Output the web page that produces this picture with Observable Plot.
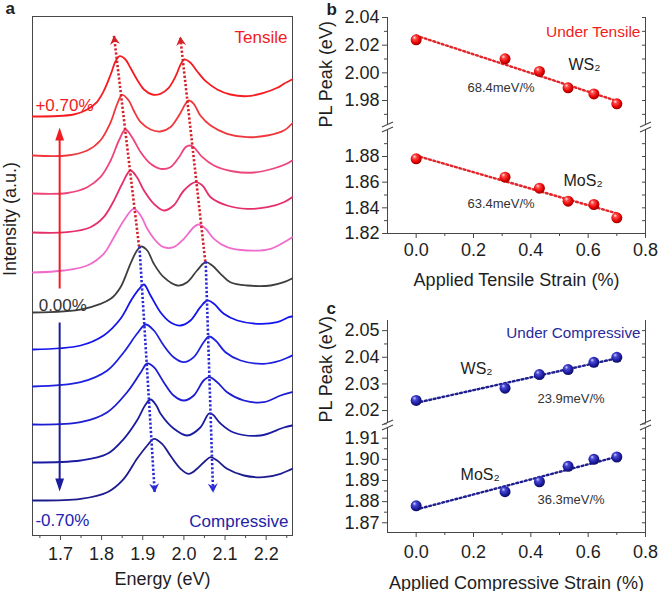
<!DOCTYPE html>
<html><head><meta charset="utf-8">
<script src="https://cdn.jsdelivr.net/npm/d3@7"></script>
<script src="https://cdn.jsdelivr.net/npm/@observablehq/plot@0.6"></script>
<style>
body{margin:0;background:#fff;}
#fig{position:relative;width:658px;height:591px;overflow:hidden;background:#fff;font-family:Arial,"Liberation Sans",sans-serif;}
#fig svg{position:absolute;overflow:visible;background:transparent;}
</style></head><body><div id="fig"></div>
<script>
// ---------------- Panel a: PL spectra (energy in eV, intensity in a.u. relative to each curve's baseline)
const strainLabels = ["+0.70%", "+0.62%", "+0.53%", "+0.43%", "+0.31%", "0.00%", "-0.31%", "-0.43%", "-0.53%", "-0.62%", "-0.70%"];
const curveColors = ["#f51c22", "#f0373c", "#ee4479", "#e52f69", "#f06ccc", "#3e3e3e", "#1414ee", "#1e22e0", "#1c1cd2", "#1b1ba2", "#1c1c8e"];
const curveOffsets = [419, 380, 342, 303, 263, 223, 186, 149, 111, 73, 35];

const eT70 = [1.633,1.732,1.765,1.789,1.805,1.822,1.834,1.844,1.858,1.870,1.886,1.903,1.923,1.943,1.963,1.980,1.992,2.001,2.016,2.032,2.053,2.081,2.113,2.154,2.194,2.227,2.244,2.255,2.263];
const iT70 = [0,2,7,14.7,25.3,42,55.3,60.3,57,48.7,37,27,22,22.7,28.7,40.3,52,57,53.7,45.3,35.3,27,22,20.3,23.7,28.7,33,35.3,37];
const eT62 = [1.633,1.716,1.765,1.797,1.822,1.838,1.850,1.866,1.878,1.895,1.919,1.943,1.967,1.988,2.004,2.012,2.024,2.040,2.065,2.105,2.154,2.203,2.243,2.263];
const iT62 = [0,0,5,15,33.3,51.7,60.7,55,45,33.3,26,24,28.3,40,51.7,55,51.7,40,30,21.7,18.3,20,25,32];
const eT53 = [1.633,1.716,1.765,1.797,1.822,1.842,1.858,1.874,1.895,1.919,1.943,1.967,1.988,2.004,2.014,2.024,2.045,2.073,2.121,2.170,2.218,2.251,2.263];
const iT53 = [0,0.5,6.3,16.3,33,53,64,56.3,41.3,29.7,24.7,26.3,36.3,46.3,48,46.3,36.3,28,22,21,25,30,33];
const eT43 = [1.633,1.716,1.773,1.805,1.830,1.850,1.870,1.886,1.903,1.927,1.951,1.975,2.000,2.028,2.045,2.065,2.105,2.154,2.203,2.243,2.263];
const iT43 = [0,0.3,5.3,15.3,32,48.7,62,55.3,42,28.7,22,27,42,50.3,47,35.3,27,23.7,25.3,30.3,35.3];
const eT31 = [1.633,1.708,1.765,1.805,1.830,1.854,1.878,1.895,1.911,1.931,1.951,1.975,2.000,2.024,2.036,2.053,2.073,2.105,2.154,2.211,2.251,2.263];
const iT31 = [0,2,7,18.7,35.3,52,63.7,57,43.7,32,25.3,25.3,33.7,45.3,48,43.7,33.7,25.3,22,23.7,32,35.3];
const eZ00 = [1.633,1.757,1.822,1.846,1.870,1.886,1.896,1.911,1.927,1.951,1.984,2.008,2.032,2.053,2.069,2.089,2.113,2.154,2.211,2.243,2.263];
const iZ00 = [0,3.7,13.7,25.3,48.7,62,66,62,48.7,35.3,27,30.3,42,50.3,47,38.7,30.3,27,27,30.3,34];
const eC31 = [1.633,1.749,1.805,1.846,1.874,1.895,1.903,1.919,1.943,1.967,1.992,2.016,2.040,2.057,2.073,2.097,2.130,2.178,2.227,2.255,2.263];
const iC31 = [0,4,14,30.7,50.7,62.3,65,54,37.3,27.3,24,29,42.3,49,45.7,35.7,29,25.7,27.3,32.3,33];
const eC43 = [1.633,1.749,1.814,1.854,1.886,1.907,1.927,1.951,1.975,2.000,2.024,2.048,2.061,2.077,2.101,2.138,2.194,2.235,2.263];
const iC43 = [0,4.3,16,34.3,52.7,62,56,41,29.3,24.3,29.3,44.3,50,46,34.3,26,22.7,26,31];
const eC53 = [1.633,1.749,1.814,1.862,1.895,1.911,1.927,1.951,1.975,2.000,2.024,2.048,2.062,2.081,2.105,2.146,2.194,2.235,2.263];
const iC53 = [0,2.3,12.3,32.3,52,61,57.3,42.3,29,24,29,44,47.3,42.3,32.3,24,22.3,29,32.3];
const eC62 = [1.633,1.749,1.814,1.854,1.886,1.907,1.919,1.933,1.943,1.975,2.008,2.040,2.061,2.070,2.089,2.121,2.186,2.243,2.263];
const iC62 = [0,2,8.7,23.7,42,58,63,57,49,34,27,35,49,48,39,30,27,35,37];
const eC70 = [1.633,1.749,1.814,1.854,1.886,1.911,1.927,1.947,1.967,1.992,2.012,2.032,2.053,2.065,2.081,2.105,2.146,2.194,2.235,2.263];
const iC70 = [0,1.7,8.3,21.7,41.7,55,61.7,56.7,45,31.7,26.7,31.7,40,43.3,40,31.7,25,23.3,26.7,31.7];

const curveEnergies = [eT70, eT62, eT53, eT43, eT31, eZ00, eC31, eC43, eC53, eC62, eC70];
const curveIntensities = [iT70, iT62, iT53, iT43, iT31, iZ00, iC31, iC43, iC53, iC62, iC70];

// peak-shift guides (start at the 0.00% peaks, end at arrow tips)
const guideE1 = [1.891, 2.052, 1.892, 2.053];
const guideV1 = [289, 274, 289, 274];
const guideE2 = [1.830, 1.991, 1.929, 2.071];
const guideV2 = [500, 499, 43, 43];
const guideColors = ["#d42029", "#d42029", "#2a2ad6", "#2a2ad6"];
const guideTilt = [-6.7, -6.4, 176.5, 178];

// strain direction arrows
const strainArrowE = [1.698, 1.698];
const strainArrowFrom = [247, 213];
const strainArrowTip = [408, 44];
const strainArrowColors = ["#f01c22", "#1c1c9c"];
const strainArrowTilt = [0, 180];

const energyTicks = [1.7, 1.8, 1.9, 2.0, 2.1, 2.2];
const energyMinor = [1.65, 1.75, 1.85, 1.95, 2.05, 2.15, 2.25];

// curve labels
const curveLabelText = ["+0.70%", "0.00%", "-0.70%"];
const curveLabelE = [1.639, 1.647, 1.639];
const curveLabelV = [424.5, 225, 10];
const curveLabelColors = ["#f01c22", "#333333", "#2323b4"];

// ---------------- Panels b, c: PL peak vs strain
const strainValues = [0, 0.31, 0.43, 0.53, 0.62, 0.70];
const ws2Tensile = [2.0239, 2.0101, 2.0010, 1.9892, 1.9848, 1.9776];
const mos2Tensile = [1.8782, 1.8639, 1.8553, 1.8452, 1.8426, 1.8322];
const ws2Compressive = [2.0238, 2.0284, 2.0335, 2.0354, 2.0381, 2.0400];
const mos2Compressive = [1.8780, 1.8847, 1.8894, 1.8967, 1.9000, 1.9011];

const strainTicks = [0, 0.2, 0.4, 0.6, 0.8];
const strainMinor = [0.1, 0.3, 0.5, 0.7];
const bUpMajor = [1.98, 2.00, 2.02, 2.04];
const bUpMinor = [1.97, 1.99, 2.01, 2.03];
const bLowMajor = [1.82, 1.84, 1.86, 1.88];
const bLowMinor = [1.83, 1.85, 1.87, 1.89];
const cUpMajor = [2.02, 2.03, 2.04, 2.05];
const cUpMinor = [2.015, 2.025, 2.035, 2.045];
const cLowMajor = [1.87, 1.88, 1.89, 1.90, 1.91];
const cLowMinor = [1.875, 1.885, 1.895, 1.905];

// in-plot annotations: [text, strain x, PL y, font size]
const bUpNotes = [["WS\u2082", 0.531, 2.0017, 16], ["68.4meV/%", 0.179, 1.9858, 13]];
const bLowNotes = [["MoS\u2082", 0.514, 1.8574, 16], ["63.4meV/%", 0.179, 1.8395, 13]];
const cUpNotes = [["WS\u2082", 0.155, 2.0339, 16], ["23.9meV/%", 0.423, 2.0230, 13]];
const cLowNotes = [["MoS\u2082", 0.155, 1.8900, 16], ["36.3meV/%", 0.423, 1.8791, 13]];

// ---------------- build
const fig = document.getElementById("fig");
const FONT = 'Arial, "Liberation Sans", sans-serif';
const AX = "#474747";
const baseStyle = {fontFamily: FONT, background: "transparent", overflow: "visible", color: "#1e1e1e"};
const f1 = d => d.toFixed(1);
const f2 = d => d.toFixed(2);
const blank = () => "";
function place(svg, left, top) { svg.style.position = "absolute"; svg.style.left = left + "px"; svg.style.top = top + "px"; fig.appendChild(svg); }

const chevron = {draw(ctx) { ctx.moveTo(0, 0); ctx.lineTo(5, 9); ctx.lineTo(0, 6); ctx.lineTo(-5, 9); ctx.closePath(); }};
const headTri = {draw(ctx) { ctx.moveTo(0, 0); ctx.lineTo(4.4, 13); ctx.lineTo(-4.4, 13); ctx.closePath(); }};
const breakMark = {draw(ctx) { ctx.moveTo(-5.5, -0.5); ctx.lineTo(5.5, -5.5); ctx.moveTo(-5.5, 4.5); ctx.lineTo(5.5, -0.5); }};

const rowsA = [];
curveEnergies.forEach((es, k) => es.forEach((e, j) => rowsA.push({k, e, v: curveOffsets[k] + curveIntensities[k][j], color: curveColors[k]})));
const guides = guideE1.map((e, i) => ({e1: e, v1: guideV1[i], e2: guideE2[i], v2: guideV2[i], c: guideColors[i], r: guideTilt[i]}));
const arrowsA = strainArrowE.map((e, i) => ({e, v1: strainArrowFrom[i], v2: strainArrowTip[i], vline: strainArrowTip[i] + (i === 0 ? -10 : 10), c: strainArrowColors[i], r: strainArrowTilt[i]}));
const curveLabels = curveLabelText.map((t, i) => ({t, e: curveLabelE[i], v: curveLabelV[i], c: curveLabelColors[i]}));

const pa = Plot.plot({
  width: 300, height: 591, marginLeft: 32, marginRight: 8, marginTop: 16, marginBottom: 56,
  style: baseStyle,
  x: {domain: [1.632, 2.264]},
  y: {domain: [0, 519], axis: null},
  color: {type: "identity"},
  marks: [
    Plot.frame({stroke: AX}),
    Plot.axisX({ticks: energyTicks, tickSize: 5, tickPadding: 7, tickFormat: f1, fontSize: 18, label: null, stroke: AX}),
    Plot.axisX({ticks: energyMinor, tickSize: 3, tickFormat: blank, label: null, stroke: AX}),
    Plot.line(rowsA, {x: "e", y: "v", z: "k", stroke: "color", strokeWidth: 1.8, curve: "catmull-rom"}),
    Plot.link(guides, {x1: "e1", y1: "v1", x2: "e2", y2: "v2", stroke: "c", strokeWidth: 2.6, strokeDasharray: "2.2,2"}),
    Plot.dot(guides, {x: "e2", y: "v2", symbol: chevron, fill: "c", stroke: "none", rotate: "r"}),
    Plot.link(arrowsA, {x1: "e", y1: "v1", x2: "e", y2: "vline", stroke: "c", strokeWidth: 2}),
    Plot.dot(arrowsA, {x: "e", y: "v2", symbol: headTri, fill: "c", stroke: "none", rotate: "r"}),
    Plot.text(curveLabels, {x: "e", y: "v", text: "t", fill: "c", textAnchor: "start", lineAnchor: "bottom", fontSize: 17}),
    Plot.text(["Tensile"], {frameAnchor: "top-right", dx: -5, dy: 26, text: d => d, fill: "#f01c22", textAnchor: "end", lineAnchor: "bottom", fontSize: 17}),
    Plot.text(["Compressive"], {frameAnchor: "bottom-right", dx: -4, dy: -9, text: d => d, fill: "#2323a8", textAnchor: "end", lineAnchor: "bottom", fontSize: 17}),
    Plot.text(["Intensity (a.u.)"], {frameAnchor: "left", dx: -17, text: d => d, rotate: -90, lineAnchor: "bottom", fontSize: 18}),
    Plot.text(["Energy (eV)"], {frameAnchor: "bottom", dy: 49.5, text: d => d, lineAnchor: "bottom", fontSize: 18}),
    Plot.text(["a"], {frameAnchor: "top-left", dx: -27, dy: -3, text: d => d, textAnchor: "start", lineAnchor: "bottom", fontSize: 17, fontWeight: "bold"})
  ]
});
place(pa, 0, 0);

// gradients for the shaded balls
const defs = d3.select(pa).append("defs");
function ball(id, stops) {
  const g = defs.append("radialGradient").attr("id", id).attr("cx", "45%").attr("cy", "42%").attr("r", "60%").attr("fx", "33%").attr("fy", "28%");
  stops.forEach(([o, c]) => g.append("stop").attr("offset", o).attr("stop-color", c));
}
ball("ballRed", [[0, "#ffe6e6"], [0.28, "#ff4a4a"], [0.7, "#e60000"], [1, "#8c0000"]]);
ball("ballBlue", [[0, "#d6d6ff"], [0.28, "#4a4ad6"], [0.7, "#1c1ca0"], [1, "#0a0a55"]]);

const rows = ys => strainValues.map((s, i) => ({s, p: ys[i]}));
const notes = arr => arr.map(([t, s, p, fs]) => ({t, s, p, fs}));

function halfPanel({top, height, marginTop, marginBottom, domain, major, minor, upper, series, fitColor, ballId, noteRows, extra}) {
  const marks = [
    Plot.ruleX([-0.1, 0.8], upper ? {stroke: AX, insetBottom: 2} : {stroke: AX, insetTop: 2}),
    Plot.axisY({ticks: major, tickSize: 5, tickPadding: 3, tickFormat: f2, fontSize: 18, label: null, stroke: AX}),
    Plot.axisY({ticks: minor, tickSize: 3, tickFormat: blank, label: null, stroke: AX}),
    Plot.axisY({anchor: "right", ticks: major.concat(minor), tickSize: -4, tickFormat: blank, label: null, stroke: AX}),
    Plot.linearRegressionY(series, {x: "s", y: "p", stroke: fitColor, strokeWidth: 2.4, strokeDasharray: "1.8,2.7", ci: 0}),
    Plot.dot(series, {x: "s", y: "p", r: 5.5, fill: `url(#${ballId})`}),
    Plot.text(noteRows.filter(d => d.fs === 16), {x: "s", y: "p", text: "t", fill: "#222", textAnchor: "start", lineAnchor: "bottom", fontSize: 16}),
    Plot.text(noteRows.filter(d => d.fs === 13), {x: "s", y: "p", text: "t", fill: "#333", textAnchor: "start", lineAnchor: "bottom", fontSize: 13})
  ];
  if (!upper) {
    marks.push(Plot.ruleY([domain[0]], {stroke: AX}));
    marks.push(Plot.dot([0], {frameAnchor: "top-left", symbol: breakMark, stroke: AX, fill: "none", strokeWidth: 1.1}));
    marks.push(Plot.dot([0], {frameAnchor: "top-right", symbol: breakMark, stroke: AX, fill: "none", strokeWidth: 1.1}));
  }
  const svg = Plot.plot({
    width: 353, height, marginLeft: 82, marginRight: 13, marginTop, marginBottom,
    style: baseStyle,
    x: {domain: [-0.1, 0.8], axis: null},
    y: {domain},
    marks: marks.concat(extra)
  });
  place(svg, 305, top);
}

// panel b
halfPanel({top: 0, height: 127, marginTop: 17, marginBottom: 0, domain: [1.9605, 2.04], major: bUpMajor, minor: bUpMinor, upper: true,
  series: rows(ws2Tensile), fitColor: "#e3262b", ballId: "ballRed", noteRows: notes(bUpNotes),
  extra: [
    Plot.text(["Under Tensile"], {frameAnchor: "top-right", dx: -5, dy: 19.5, text: d => d, fill: "#f01c22", textAnchor: "end", lineAnchor: "bottom", fontSize: 15.5}),
    Plot.text(["PL Peak (eV)"], {frameAnchor: "bottom-left", dx: -56, text: d => d, rotate: -90, lineAnchor: "bottom", fontSize: 18}),
    Plot.text(["b"], {frameAnchor: "top-left", dx: -61, dy: -3, text: d => d, textAnchor: "start", lineAnchor: "bottom", fontSize: 17, fontWeight: "bold"})
  ]});
halfPanel({top: 127, height: 173, marginTop: 0, marginBottom: 67, domain: [1.82, 1.9026], major: bLowMajor, minor: bLowMinor, upper: false,
  series: rows(mos2Tensile), fitColor: "#e3262b", ballId: "ballRed", noteRows: notes(bLowNotes),
  extra: [
    Plot.axisX({ticks: strainTicks, tickSize: 5, tickPadding: 5, tickFormat: f1, fontSize: 18, label: null, stroke: AX}),
    Plot.axisX({ticks: strainMinor, tickSize: 3, tickFormat: blank, label: null, stroke: AX}),
    Plot.text(["Applied Tensile Strain (%)"], {frameAnchor: "bottom", dy: 52, text: d => d, lineAnchor: "bottom", fontSize: 18})
  ]});

// panel c
halfPanel({top: 300, height: 125, marginTop: 20, marginBottom: 0, domain: [2.0144, 2.0538], major: cUpMajor, minor: cUpMinor, upper: true,
  series: rows(ws2Compressive), fitColor: "#1f1f8f", ballId: "ballBlue", noteRows: notes(cUpNotes),
  extra: [
    Plot.text(["Under Compressive"], {frameAnchor: "top-right", dx: -5, dy: 17, text: d => d, fill: "#2a2a9c", textAnchor: "end", lineAnchor: "bottom", fontSize: 15.2}),
    Plot.text(["PL Peak (eV)"], {frameAnchor: "bottom-left", dx: -56, dy: -3, text: d => d, rotate: -90, lineAnchor: "bottom", fontSize: 18}),
    Plot.text(["c"], {frameAnchor: "top-left", dx: -61, dy: -7, text: d => d, textAnchor: "start", lineAnchor: "bottom", fontSize: 17, fontWeight: "bold"})
  ]});
halfPanel({top: 425, height: 166, marginTop: 0, marginBottom: 59, domain: [1.8654, 1.916], major: cLowMajor, minor: cLowMinor, upper: false,
  series: rows(mos2Compressive), fitColor: "#1f1f8f", ballId: "ballBlue", noteRows: notes(cLowNotes),
  extra: [
    Plot.axisX({ticks: strainTicks, tickSize: 5, tickPadding: 8, tickFormat: f1, fontSize: 18, label: null, stroke: AX}),
    Plot.axisX({ticks: strainMinor, tickSize: 3, tickFormat: blank, label: null, stroke: AX}),
    Plot.text(["Applied Compressive Strain (%)"], {frameAnchor: "bottom", dy: 56, text: d => d, lineAnchor: "bottom", fontSize: 18})
  ]});
</script></body></html>
